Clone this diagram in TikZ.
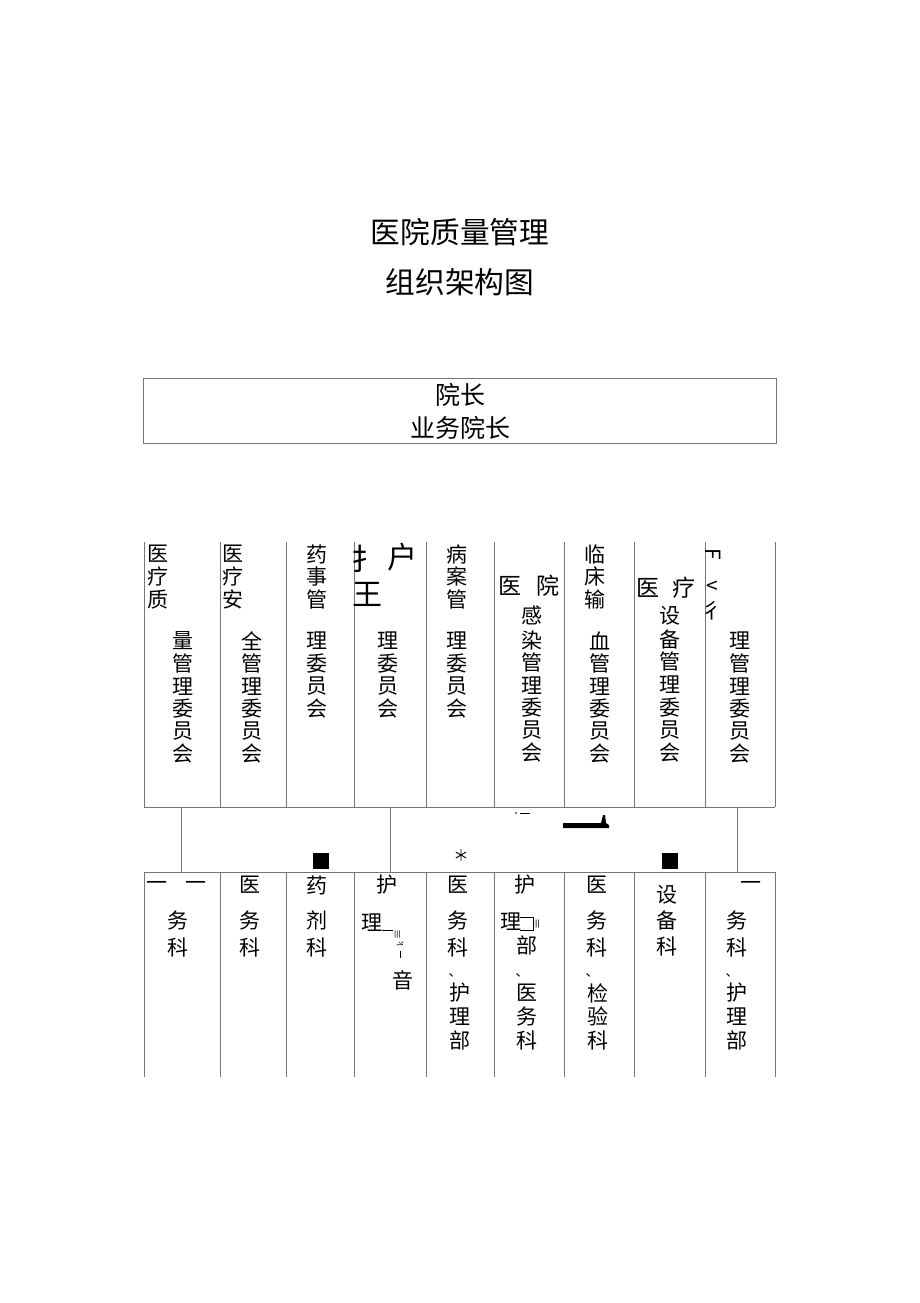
\documentclass[tikz,border=0pt]{standalone}
\usepackage{fontspec}
\newfontfamily\cjk{Noto Sans CJK SC}
\definecolor{linecol}{RGB}{118,118,118}
\newcommand{\vstack}[5]{%
  \foreach \c [count=\i] in {#5} {\node[ch] (#1-\i) at (#2,{#3+(\i-1)*#4}) {\c};}}
\begin{document}
\begin{tikzpicture}[x=1pt,y=-1pt,
  ch/.style={font=\cjk\fontsize{21}{21}\selectfont, inner sep=0pt, text=black},
  bigch/.style={font=\cjk\fontsize{30}{30}\selectfont, inner sep=0pt},
  titletext/.style={font=\cjk\fontsize{29.7}{29.7}\selectfont, inner sep=0pt},
  boxtext/.style={font=\cjk\fontsize{25}{25}\selectfont, inner sep=0pt},
  grid/.style={draw=linecol, line width=0.8pt},
  link/.style={draw=linecol, line width=0.8pt},
  blackmark/.style={fill=black, draw=none}]
\useasboundingbox (0,0) rectangle (920,1303);
\fill[white] (0,0) rectangle (920,1303);

% title
\node[titletext] (t1) at (460,232) {医院质量管理};
\node[titletext] (t2) at (460,282) {组织架构图};

% top box
\node[grid, minimum width=633pt, minimum height=65pt, inner sep=0pt] (top) at (459.5,410.5) {};
\node[boxtext] (dz) at (460,395) {院长};
\node[boxtext] (ywz) at (460,428) {业务院长};

% upper row grid
\foreach \x in {144,220,286,354,426,494,564,634,705,775}
  \draw[grid] (\x,542) -- (\x,807);
\draw[grid] (144,807) -- (775,807);

% upper texts
\vstack{ua}{158}{554}{22.7}{医,疗,质}
\vstack{ub}{183}{641}{22.6}{量,管,理,委,员,会}
\vstack{uc}{233}{554}{22.7}{医,疗,安}
\vstack{ud}{252}{641}{22.6}{全,管,理,委,员,会}
\vstack{ue}{317}{554}{22.7}{药,事,管}
\vstack{uf}{317}{641}{22.6}{理,委,员,会}
\node[bigch] (ug1) at (366,559) {扌};
\node[bigch] (ug2) at (402,557) {户};
\node[bigch] (ug3) at (367,594) {王};
\vstack{uh}{388}{641}{22.6}{理,委,员,会}
\vstack{ui}{457}{554}{22.7}{病,案,管}
\vstack{uj}{457}{641}{22.6}{理,委,员,会}
\node[ch, font=\cjk\fontsize{23}{23}\selectfont] (uk1) at (510,586) {医};
\node[ch, font=\cjk\fontsize{23}{23}\selectfont] (uk2) at (548,586) {院};
\node[ch] (uk3) at (532,615) {感};
\vstack{ul}{532}{640}{22.6}{染,管,理,委,员,会}
\vstack{um}{595}{554}{22.7}{临,床,输}
\vstack{un}{600}{641}{22.6}{血,管,理,委,员,会}
\node[ch, font=\cjk\fontsize{23}{23}\selectfont] (uo1) at (648,588) {医};
\node[ch, font=\cjk\fontsize{23}{23}\selectfont] (uo2) at (684,588) {疗};
\node[ch] (uo3) at (670,616) {设};
\vstack{up}{670}{639}{22.8}{备,管,理,委,员,会}
\node[ch, rotate=-90] (uq1) at (713,554) {F};
\node[ch] (uq2) at (712,587) {<};
\node[ch] (uq3) at (712,611) {彳};
\vstack{ur}{740}{641}{22.6}{理,管,理,委,员,会}

% connectors
\coordinate (c1a) at (181,807); \coordinate (c1b) at (181,872);
\coordinate (c2a) at (390,807); \coordinate (c2b) at (390,872);
\coordinate (c3a) at (737,807); \coordinate (c3b) at (737,872);
\draw[link] (c1a) -- (c1b);
\draw[link] (c2a) -- (c2b);
\draw[link] (c3a) -- (c3b);

% marks in between
\fill[blackmark] (313,853) rectangle (329,869);
\fill[blackmark] (662,853) rectangle (678,869);
\coordinate (star) at (461,855);
\draw[black, line width=0.9pt] ([yshift=6pt]star) -- ([yshift=-6pt]star)
  ([shift={(-5.2,-3)}]star) -- ([shift={(5.2,3)}]star)
  ([shift={(-5.2,3)}]star) -- ([shift={(5.2,-3)}]star);
\fill[blackmark] (563,823) -- (601,823) -- (603,815) -- (605,815) -- (606,823) -- (609,825) -- (609,828) -- (563,828) -- cycle;
\fill[blackmark] (516,813) circle (0.8pt);
\draw[black, line width=0.8pt] (520,813) -- (530,813);

% lower row grid
\draw[grid] (144,872) -- (775,872);
\foreach \x in {144,220,286,354,426,494,564,634,705,775}
  \draw[grid] (\x,872) -- (\x,1077);

% lower texts
\node[ch] (la1) at (157,886) {一};
\node[ch] (la2) at (196,886) {一};
\vstack{lb}{178}{920}{27.5}{务,科}
\vstack{lc}{250}{885}{31}{医}
\vstack{ld}{250}{920}{27.5}{务,科}
\vstack{le}{317}{885}{31}{药}
\vstack{lf}{317}{920}{27.5}{剂,科}
\node[ch] (lg1) at (387,885) {护};
\node[ch] (lg2) at (372,923) {理};
\draw[black, line width=0.6pt] (382,930) -- (393,930);
\node[ch, rotate=90, font=\cjk\fontsize{10}{10}\selectfont] (lg3) at (398,934) {≡};
\node[ch, rotate=90, font=\fontsize{9}{9}\selectfont] (lg4) at (400,944) {k};
\draw[black, line width=0.6pt] (400,951) -- (400,958);
\node[ch] (lg5) at (403,980) {音};
\vstack{lh}{458}{885}{31}{医}
\vstack{li}{458}{920}{27.5}{务,科}
\node[ch, font=\cjk\fontsize{13}{13}\selectfont] (lj0) at (455,975) {、};
\vstack{lj}{460}{993}{23.5}{护,理,部}
\node[ch] (lk1) at (525,885) {护};
\node[ch] (lk2) at (511,922) {理};
\draw[black, line width=0.6pt] (520,917) -- (533,917) -- (533,930) -- (520,930);
\node[ch, rotate=90, font=\cjk\fontsize{11}{11}\selectfont] (lk3) at (537,924) {≡};
\node[ch] (lk4) at (527,945) {部};
\node[ch, font=\cjk\fontsize{13}{13}\selectfont] (ll0) at (522,975) {、};
\vstack{ll}{527}{993}{23.5}{医,务,科}
\vstack{lm}{597}{885}{31}{医}
\vstack{ln}{597}{920}{27.5}{务,科}
\node[ch, font=\cjk\fontsize{13}{13}\selectfont] (lo0) at (592,975) {、};
\vstack{lo}{598}{993}{23.5}{检,验,科}
\vstack{lp}{667}{895}{25.5}{设,备,科}
\node[ch] (lq1) at (751,886) {一};
\vstack{lr}{737}{920}{27.5}{务,科}
\node[ch, font=\cjk\fontsize{13}{13}\selectfont] (ls0) at (732,975) {、};
\vstack{ls}{737}{993}{23.5}{护,理,部}
\end{tikzpicture}
\end{document}
